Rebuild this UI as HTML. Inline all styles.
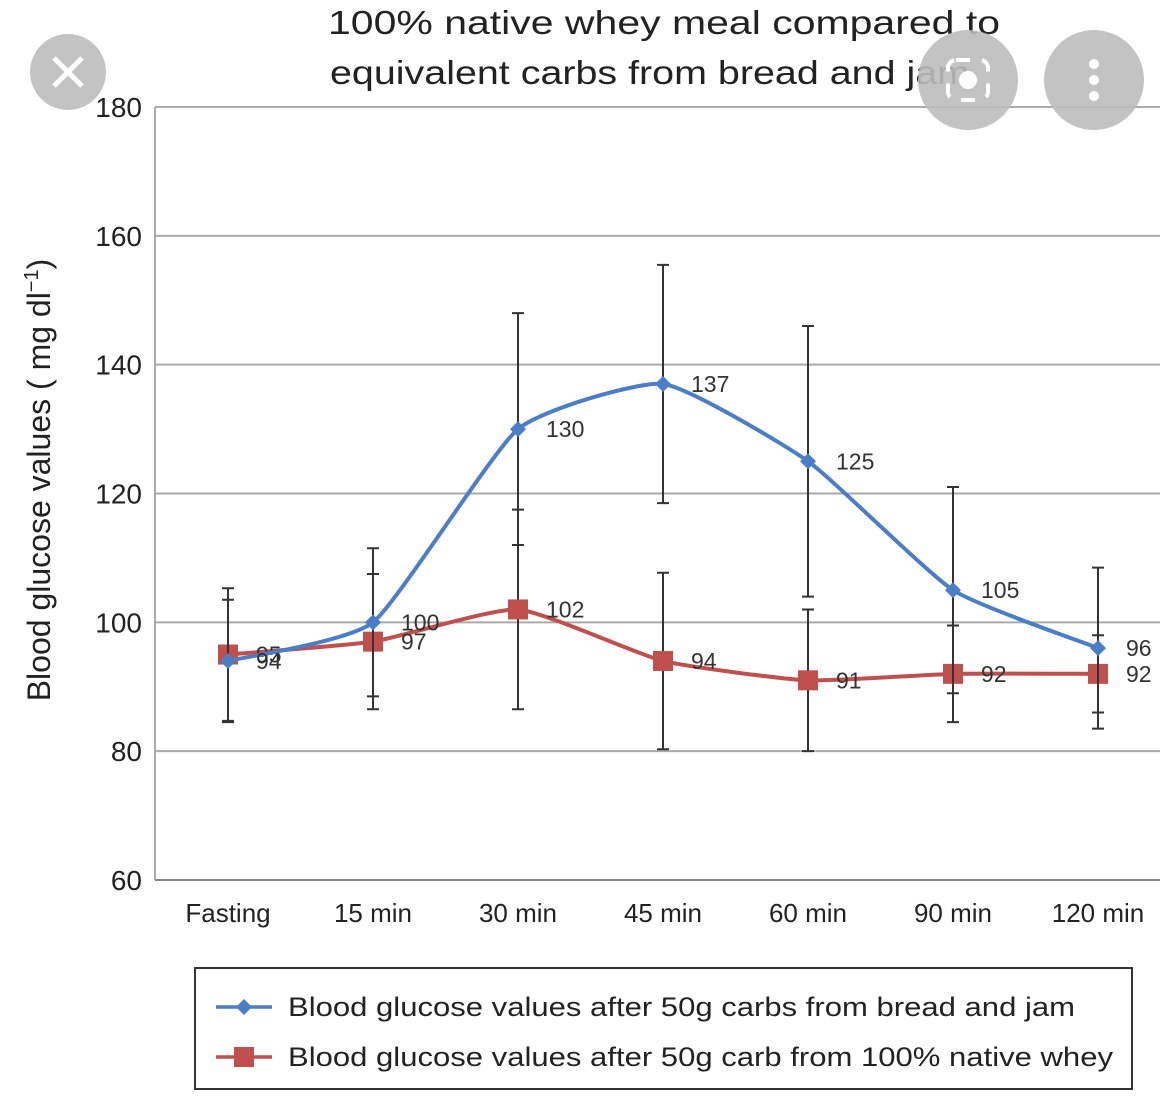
<!DOCTYPE html>
<html><head><meta charset="utf-8"><style>
body{margin:0;background:#fff;width:1160px;height:1093px;overflow:hidden;font-family:"Liberation Sans",sans-serif}
</style></head><body>
<svg id="chart" width="1160" height="1093" xmlns="http://www.w3.org/2000/svg" font-family="Liberation Sans, sans-serif">
<g font-size="33" fill="#222">
<text x="328" y="34" textLength="672" lengthAdjust="spacingAndGlyphs">100% native whey meal compared to</text>
<text x="330" y="84" textLength="640" lengthAdjust="spacingAndGlyphs">equivalent carbs from bread and jam</text>
</g>
<g id="grid"></g>
<g id="axes"></g>
<g id="series"></g>
<text transform="translate(50,480) rotate(-90)" text-anchor="middle" font-size="32" fill="#222">Blood glucose values ( mg dl<tspan dy="-12" font-size="20">−1</tspan><tspan dy="12">)</tspan></text>
<g>
<rect x="195" y="968" width="937" height="121" fill="#fff" stroke="#333" stroke-width="2"/>
<g>
<line x1="216" y1="1007" x2="272" y2="1007" stroke="#4a7ec6" stroke-width="3.5"/>
<path d="M244 999 L252 1007 L244 1015 L236 1007Z" fill="#4a7ec6"/>
<text x="288" y="1016" font-size="27" fill="#222" textLength="787" lengthAdjust="spacingAndGlyphs">Blood glucose values after 50g carbs from bread and jam</text>
</g>
<g>
<line x1="216" y1="1057" x2="272" y2="1057" stroke="#c0504d" stroke-width="3.5"/>
<rect x="234" y="1047" width="20" height="20" fill="#c0504d"/>
<text x="288" y="1066" font-size="27" fill="#222" textLength="825" lengthAdjust="spacingAndGlyphs">Blood glucose values after 50g carb from 100% native whey</text>
</g>
</g>
<g><circle cx="68" cy="72" r="38" fill="#bdbdbd" opacity="0.9"/><path d="M54 58 L82 86 M82 58 L54 86" stroke="#fff" stroke-width="5"/></g>
<g><circle cx="968" cy="80" r="50" fill="#bdbdbd" opacity="0.9"/><circle cx="968" cy="80" r="9" fill="#fff"/><rect x="948" y="60" width="40" height="40" rx="8" fill="none" stroke="#fff" stroke-width="4" stroke-dasharray="14 12"/></g>
<g><circle cx="1094" cy="80" r="50" fill="#bdbdbd" opacity="0.9"/><circle cx="1094" cy="64" r="5" fill="#fff"/><circle cx="1094" cy="80" r="5" fill="#fff"/><circle cx="1094" cy="96" r="5" fill="#fff"/></g>
</svg>
<script>
const categories=["Fasting","15 min","30 min","45 min","60 min","90 min","120 min"];
const breadValues=[94,100,130,137,125,105,96];
const breadErr=[9.5,11.5,18,18.5,21,16,12.5];
const wheyValues=[95,97,102,94,91,92,92];
const wheyErr=[10.3,10.5,15.5,13.7,11,7.5,6];
const yTicks=[60,80,100,120,140,160,180];
const NS="http://www.w3.org/2000/svg";
const X0=228,DX=145,Y0=880,Y1=107,VMIN=60,VMAX=180;
const xs=i=>X0+i*DX;
const ys=v=>Y0-(v-VMIN)/(VMAX-VMIN)*(Y0-Y1);
function mk(tag,attrs,parent,text){const e=document.createElementNS(NS,tag);for(const k in attrs)e.setAttribute(k,attrs[k]);if(text!=null)e.textContent=text;parent.appendChild(e);return e;}
const grid=document.getElementById('grid'),axes=document.getElementById('axes'),ser=document.getElementById('series');
yTicks.forEach(t=>{
 const l=mk('line',{x1:155,x2:1160,y1:ys(t),y2:ys(t),stroke:t===60?'#888':'#aaa','stroke-width':2},grid);
 
 
 const tx=mk('text',{x:142,y:ys(t)+10,'text-anchor':'end','font-size':28,fill:'#222'},axes,String(t));
 
 
});
const ax=mk('line',{x1:155,x2:155,y1:Y1,y2:Y0,stroke:'#aaa','stroke-width':2},axes);


categories.forEach((c,i)=>{
 const t=mk('text',{x:xs(i),y:922,'text-anchor':'middle','font-size':26,fill:'#222'},axes,c);
 
 
});
function smooth(pts){
 let d=`M${pts[0][0]} ${pts[0][1]}`;
 for(let i=0;i<pts.length-1;i++){
  const p0=pts[Math.max(i-1,0)],p1=pts[i],p2=pts[i+1],p3=pts[Math.min(i+2,pts.length-1)];
  const k=1/12;
  d+=`C${p1[0]+(p2[0]-p0[0])*k} ${p1[1]+(p2[1]-p0[1])*k} ${p2[0]-(p3[0]-p1[0])*k} ${p2[1]-(p3[1]-p1[1])*k} ${p2[0]} ${p2[1]}`;
 }
 return d;
}
function series(vals,errs,color,name,marker,labelDy){
 const g=mk('g',{},ser);
 
 
 vals.forEach((v,i)=>{
  const e=mk('path',{d:`M${xs(i)} ${ys(v+errs[i])}V${ys(v-errs[i])}M${xs(i)-6} ${ys(v+errs[i])}h12M${xs(i)-6} ${ys(v-errs[i])}h12`,stroke:'#333','stroke-width':2,fill:'none'},g);
  
  
 });
 const p=mk('path',{d:smooth(vals.map((v,i)=>[xs(i),ys(v)])),fill:'none',stroke:color,'stroke-width':4},g);
 
 
 vals.forEach((v,i)=>{
  let m;
  if(marker==='d') m=mk('path',{d:`M${xs(i)} ${ys(v)-8}L${xs(i)+8} ${ys(v)}L${xs(i)} ${ys(v)+8}L${xs(i)-8} ${ys(v)}Z`,fill:color},g);
  else m=mk('rect',{x:xs(i)-10,y:ys(v)-10,width:20,height:20,fill:color},g);
  
  
  const t=mk('text',{x:xs(i)+28,y:ys(v)+labelDy,'font-size':23,fill:'#333'},g,String(v));
  
  
 });
}
series(wheyValues,wheyErr,'#c0504d','whey','s',8);
series(breadValues,breadErr,'#4a7ec6','bread','d',8);
</script>
</body></html>
